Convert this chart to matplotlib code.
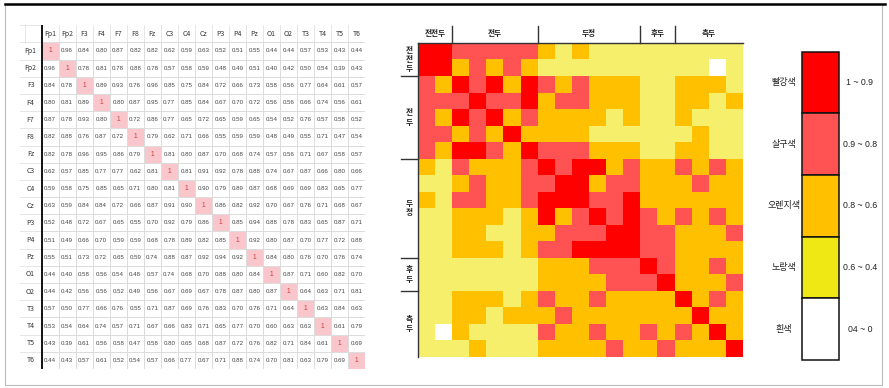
import numpy as np
import matplotlib
matplotlib.use('Agg')
import matplotlib.pyplot as plt
from matplotlib.colors import ListedColormap, BoundaryNorm
from matplotlib.patches import Rectangle

plt.rcParams['font.family'] = ['Noto Sans CJK KR', 'DejaVu Sans']

channels = ['Fp1', 'Fp2', 'F3', 'F4', 'F7', 'F8', 'Fz', 'C3', 'C4', 'Cz',
            'P3', 'P4', 'Pz', 'O1', 'O2', 'T3', 'T4', 'T5', 'T6']

corr = np.array([
    [1, 0.96, 0.84, 0.80, 0.87, 0.82, 0.82, 0.62, 0.59, 0.63, 0.52, 0.51, 0.55, 0.44, 0.44, 0.57, 0.53, 0.43, 0.44],
    [0.96, 1, 0.78, 0.81, 0.78, 0.88, 0.78, 0.57, 0.58, 0.59, 0.48, 0.49, 0.51, 0.40, 0.42, 0.50, 0.54, 0.39, 0.43],
    [0.84, 0.78, 1, 0.89, 0.93, 0.76, 0.96, 0.85, 0.75, 0.84, 0.72, 0.66, 0.73, 0.58, 0.56, 0.77, 0.64, 0.61, 0.57],
    [0.80, 0.81, 0.89, 1, 0.80, 0.87, 0.95, 0.77, 0.85, 0.84, 0.67, 0.70, 0.72, 0.56, 0.56, 0.66, 0.74, 0.56, 0.61],
    [0.87, 0.78, 0.93, 0.80, 1, 0.72, 0.86, 0.77, 0.65, 0.72, 0.65, 0.59, 0.65, 0.54, 0.52, 0.76, 0.57, 0.58, 0.52],
    [0.82, 0.88, 0.76, 0.87, 0.72, 1, 0.79, 0.62, 0.71, 0.66, 0.55, 0.59, 0.59, 0.48, 0.49, 0.55, 0.71, 0.47, 0.54],
    [0.82, 0.78, 0.96, 0.95, 0.86, 0.79, 1, 0.81, 0.80, 0.87, 0.70, 0.68, 0.74, 0.57, 0.56, 0.71, 0.67, 0.58, 0.57],
    [0.62, 0.57, 0.85, 0.77, 0.77, 0.62, 0.81, 1, 0.81, 0.91, 0.92, 0.78, 0.88, 0.74, 0.67, 0.87, 0.66, 0.80, 0.66],
    [0.59, 0.58, 0.75, 0.85, 0.65, 0.71, 0.80, 0.81, 1, 0.90, 0.79, 0.89, 0.87, 0.68, 0.69, 0.69, 0.83, 0.65, 0.77],
    [0.63, 0.59, 0.84, 0.84, 0.72, 0.66, 0.87, 0.91, 0.90, 1, 0.86, 0.82, 0.92, 0.70, 0.67, 0.76, 0.71, 0.68, 0.67],
    [0.52, 0.48, 0.72, 0.67, 0.65, 0.55, 0.70, 0.92, 0.79, 0.86, 1, 0.85, 0.94, 0.88, 0.78, 0.83, 0.65, 0.87, 0.71],
    [0.51, 0.49, 0.66, 0.70, 0.59, 0.59, 0.68, 0.78, 0.89, 0.82, 0.85, 1, 0.92, 0.80, 0.87, 0.70, 0.77, 0.72, 0.88],
    [0.55, 0.51, 0.73, 0.72, 0.65, 0.59, 0.74, 0.88, 0.87, 0.92, 0.94, 0.92, 1, 0.84, 0.80, 0.76, 0.70, 0.76, 0.74],
    [0.44, 0.40, 0.58, 0.56, 0.54, 0.48, 0.57, 0.74, 0.68, 0.70, 0.88, 0.80, 0.84, 1, 0.87, 0.71, 0.60, 0.82, 0.70],
    [0.44, 0.42, 0.56, 0.56, 0.52, 0.49, 0.56, 0.67, 0.69, 0.67, 0.78, 0.87, 0.80, 0.87, 1, 0.64, 0.63, 0.71, 0.81],
    [0.57, 0.50, 0.77, 0.66, 0.76, 0.55, 0.71, 0.87, 0.69, 0.76, 0.83, 0.70, 0.76, 0.71, 0.64, 1, 0.63, 0.84, 0.63],
    [0.53, 0.54, 0.64, 0.74, 0.57, 0.71, 0.67, 0.66, 0.83, 0.71, 0.65, 0.77, 0.70, 0.60, 0.63, 0.63, 1, 0.61, 0.79],
    [0.43, 0.39, 0.61, 0.56, 0.58, 0.47, 0.58, 0.80, 0.65, 0.68, 0.87, 0.72, 0.76, 0.82, 0.71, 0.84, 0.61, 1, 0.69],
    [0.44, 0.43, 0.57, 0.61, 0.52, 0.54, 0.57, 0.66, 0.77, 0.67, 0.71, 0.88, 0.74, 0.70, 0.81, 0.63, 0.79, 0.69, 1],
])

groups = ['전전두', '전두', '두정', '후두', '측두']
group_sizes = [2, 5, 6, 2, 4]

bin_edges = [0, 0.4, 0.6, 0.8, 0.9, 1.01]
cell_colors = ['#FFFFFF', '#F5EF6C', '#FFC000', '#FF5353', '#FF0000']
legend_colors = ['#FF0000', '#FF5353', '#FFC000', '#F0E814', '#FFFFFF']
legend_names = ['빨강색', '살구색', '오렌지색', '노랑색', '흰색']
legend_ranges = ['1 ~ 0.9', '0.9 ~ 0.8', '0.8 ~ 0.6', '0.6 ~ 0.4', '04 ~ 0']

W, H = 889, 388
fig = plt.figure(figsize=(W / 100, H / 100), dpi=100)


def px_axes(x0, y0, x1, y1):
    return fig.add_axes([x0 / W, 1 - y1 / H, (x1 - x0) / W, (y1 - y0) / H])


num_font = ['Liberation Sans', 'DejaVu Sans']
n = len(channels)

# ---- table ----
ax_t = px_axes(19.5, 25.2, 365, 369)
diag = np.eye(n)
ax_t.pcolormesh(np.arange(n + 1), np.arange(n + 1), diag,
                cmap=ListedColormap(['#FFFFFF', '#F9C6CC']), vmin=0, vmax=1,
                edgecolors='#DCDCDC', linewidth=0.5)
for k in range(-1, n + 1):
    ax_t.plot([-1.3, 0], [k, k], color='#DCDCDC', lw=0.5)
    ax_t.plot([k, k], [-1, 0], color='#DCDCDC', lw=0.5)
ax_t.plot([0, 0], [-1, n], color='black', lw=1.3)
for i, name in enumerate(channels):
    ax_t.text(-0.65, i + 0.5, name, ha='center', va='center', fontsize=5, color='#333333')
    ax_t.text(i + 0.5, -0.5, name, ha='center', va='center', fontsize=5, color='#333333')
    for j in range(n):
        v = corr[i, j]
        if i == j:
            ax_t.text(j + 0.5, i + 0.5, '1', ha='center', va='center',
                      fontsize=4.8, color='#D23A3A', family=num_font)
        else:
            ax_t.text(j + 0.5, i + 0.5, f'{v:.2f}', ha='center', va='center',
                      fontsize=4.4, color='#444444', family=num_font)
ax_t.set_xlim(-1.3, n)
ax_t.set_ylim(n, -1)
ax_t.axis('off')

# ---- heatmap ----
ax_h = px_axes(418, 43, 743, 357)
cmap = ListedColormap(cell_colors)
norm = BoundaryNorm(bin_edges, cmap.N)
ax_h.imshow(corr, cmap=cmap, norm=norm, aspect='auto', interpolation='nearest')
ax_h.set_xticks([])
ax_h.set_yticks([])
for s in ['right', 'bottom']:
    ax_h.spines[s].set_visible(False)
for s in ['left', 'top']:
    ax_h.spines[s].set_color('#333333')
    ax_h.spines[s].set_linewidth(1.0)

bounds = np.cumsum([0] + group_sizes) - 0.5
for g, name in enumerate(groups):
    mid = (bounds[g] + bounds[g + 1]) / 2
    ax_h.text(mid, -1.05, name, ha='center', va='center', fontsize=5.5,
              fontweight='bold', color='#222222', clip_on=False)
    ax_h.text(-1.0, mid, '\n'.join(name), ha='center', va='center', fontsize=5.5,
              fontweight='bold', color='#222222', linespacing=1.05, clip_on=False)
for b in bounds[1:-1]:
    ax_h.plot([b, b], [-1.5, -0.5], color='#333333', lw=1.0, clip_on=False)
    ax_h.plot([-1.5, -0.5], [b, b], color='#333333', lw=1.0, clip_on=False)
ax_h.set_xlim(-0.5, n - 0.5)
ax_h.set_ylim(n - 0.5, -0.5)

# ---- legend + frame ----
ax_o = px_axes(0, 0, W, H)
ax_o.set_zorder(-1)
box_top, box_h = 51.5, 61.7
for k in range(len(legend_colors)):
    y0 = box_top + k * box_h
    ax_o.add_patch(Rectangle((802, y0), 36.5, box_h, facecolor=legend_colors[k],
                             edgecolor='#111111', lw=1.1))
    ax_o.text(784, y0 + box_h / 2, legend_names[k], ha='center', va='center',
              fontsize=6.5, color='#222222')
    ax_o.text(860, y0 + box_h / 2, legend_ranges[k], ha='center', va='center',
              fontsize=6.3, color='#222222', family=num_font)
ax_o.plot([5, 5, 882, 882], [3.5, 385, 385, 3.5], color='#BBBBBB', lw=0.8)
ax_o.plot([5, 885], [3.5, 3.5], color='black', lw=1.8)
ax_o.set_xlim(0, W)
ax_o.set_ylim(H, 0)
ax_o.axis('off')

fig.savefig('out.png', dpi=100)
